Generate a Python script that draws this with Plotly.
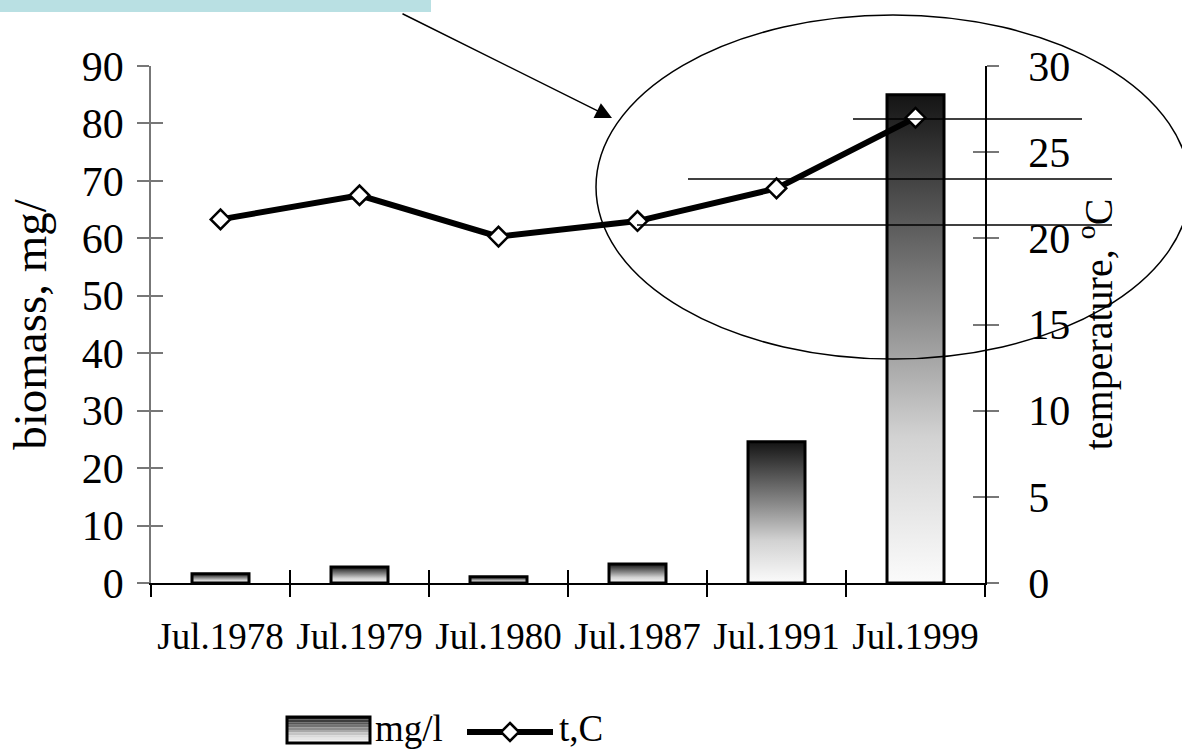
import plotly.graph_objects as go

# Survey dates (categories)
dates = ["Jul.1978", "Jul.1979", "Jul.1980", "Jul.1987", "Jul.1991", "Jul.1999"]
# Biomass, mg/l (bars, left axis)
biomass = [1.6, 2.8, 1.1, 3.3, 24.6, 85.0]
# Water temperature, C (line, right axis)
temperature = [21.1, 22.5, 20.1, 21.0, 22.9, 27.0]

left_ticks = list(range(0, 91, 10))
right_ticks = list(range(0, 31, 5))

W, H = 1182, 750
ML, MR, MT, MB = 151, 197, 66, 167
PW, PH = W - ML - MR, H - MT - MB

FONT = "Liberation Serif, Times New Roman, serif"
FS = 37
FS_Y = 42

BAR_HALF = 0.205
gradient = [[0.0, "#fbfbfb"], [0.3, "#d2d2d2"], [0.55, "#8c8c8c"],
            [0.8, "#4a4a4a"], [1.0, "#141414"]]


def px(x, y):
    """Pixel position on the page -> paper coordinates of the plot area."""
    return (x - ML) / PW, (H - MB - y) / PH


def grey_at(t):
    """Colour of the bar gradient at fraction t (0 = bottom, 1 = top)."""
    for (p0, c0), (p1, c1) in zip(gradient[:-1], gradient[1:]):
        if p0 <= t <= p1:
            f = (t - p0) / (p1 - p0)
            a = int(c0[1:3], 16)
            b = int(c1[1:3], 16)
            v = round(a + (b - a) * f)
            return "#{0:02x}{0:02x}{0:02x}".format(v)
    return gradient[-1][1]


fig = go.Figure()

# Bars with a vertical grey gradient, one filled outline per date
for i, v in enumerate(biomass):
    fig.add_trace(go.Scatter(
        x=[i - BAR_HALF, i - BAR_HALF, i + BAR_HALF, i + BAR_HALF, i - BAR_HALF],
        y=[0, v, v, 0, 0],
        mode="lines", fill="toself",
        fillgradient=dict(type="vertical", colorscale=gradient),
        line=dict(color="black", width=3),
        name="mg/l", showlegend=False, hoverinfo="skip",
    ))

# Temperature line on the right axis
fig.add_trace(go.Scatter(
    x=list(range(len(dates))), y=temperature, yaxis="y2",
    mode="lines+markers", name="t,C", showlegend=False,
    line=dict(color="black", width=6),
    marker=dict(symbol="diamond", size=15, color="white",
                line=dict(color="black", width=2.5)),
))

bounds = [i - 0.5 for i in range(len(dates) + 1)]
xr = [-0.5, len(dates) - 0.5]

xtick_font = dict(family=FONT, size=FS, color="black")
ytick_font = dict(family=FONT, size=FS_Y, color="black")

fig.update_layout(
    width=W, height=H, autosize=False,
    margin=dict(l=ML, r=MR, t=MT, b=MB, pad=0),
    paper_bgcolor="white", plot_bgcolor="white",
    font=dict(family=FONT, size=FS, color="black"),
    showlegend=False,
    xaxis=dict(range=xr, tickvals=list(range(len(dates))), ticktext=dates,
               ticks="", showgrid=False, zeroline=False,
               showline=True, linecolor="black", linewidth=1.5,
               tickfont=xtick_font, ticklabelstandoff=20),
    xaxis2=dict(range=xr, overlaying="x", anchor="y", side="bottom",
                tickvals=bounds, ticks="outside", ticklen=13, tickwidth=1.5,
                tickcolor="black", showticklabels=False, showgrid=False,
                zeroline=False, showline=False),
    xaxis3=dict(range=xr, overlaying="x", anchor="y", side="bottom",
                tickvals=bounds, ticks="inside", ticklen=13, tickwidth=1.5,
                tickcolor="black", showticklabels=False, showgrid=False,
                zeroline=False, showline=False),
    yaxis=dict(range=[0, 90], tickvals=left_ticks, ticks="outside",
               ticklen=12, tickwidth=1.5, tickcolor="#777",
               showline=True, linecolor="#777", linewidth=1.5,
               showgrid=False, zeroline=False, tickfont=ytick_font,
               ticklabelstandoff=5,
               title=dict(text="biomass, mg/", font=dict(family=FONT, size=47),
                          standoff=20)),
    yaxis3=dict(range=[0, 90], overlaying="y", anchor="x", side="left",
                tickvals=left_ticks, ticks="inside", ticklen=12, tickwidth=1.5,
                tickcolor="#777", showticklabels=False, showgrid=False,
                zeroline=False, showline=False),
    yaxis2=dict(range=[0, 30], overlaying="y", anchor="x", side="right",
                tickvals=right_ticks, ticks="outside", ticklen=12,
                tickwidth=1.5, tickcolor="#777",
                showline=True, linecolor="black", linewidth=1.5,
                showgrid=False, zeroline=False, tickfont=ytick_font,
                ticklabelstandoff=21,
                title=dict(text="temperature, <sup>o</sup>C",
                           font=dict(family=FONT, size=40), standoff=0)),
    yaxis4=dict(range=[0, 30], overlaying="y", anchor="x", side="right",
                tickvals=right_ticks, ticks="inside", ticklen=12, tickwidth=1.5,
                tickcolor="#777", showticklabels=False, showgrid=False,
                zeroline=False, showline=False),
)

# Keep the extra tick axes alive with empty traces
for xa, ya in [("x2", "y"), ("x3", "y"), ("x", "y3"), ("x", "y4")]:
    fig.add_trace(go.Scatter(x=[None], y=[None], xaxis=xa, yaxis=ya,
                             showlegend=False, hoverinfo="skip"))

shapes = []

# Legend, first item: banded grey swatch in a black frame
sx0, sx1, sy0, sy1 = 287, 370, 717, 743
n_bands = 10
for k in range(n_bands):
    top = sy0 + (sy1 - sy0) * k / n_bands
    bot = sy0 + (sy1 - sy0) * (k + 1) / n_bands
    t = 1 - (k + 0.5) / n_bands
    a, b = px(sx0, bot)
    c, d = px(sx1, top)
    shapes.append(dict(type="rect", xref="paper", yref="paper", x0=a, x1=c,
                       y0=b, y1=d, fillcolor=grey_at(t), line=dict(width=0)))
a, b = px(sx0, sy1)
c, d = px(sx1, sy0)
shapes.append(dict(type="rect", xref="paper", yref="paper", x0=a, x1=c,
                   y0=b, y1=d, line=dict(color="black", width=3)))

# Legend, second item: thick line with an open diamond
ly_px = 732
a, b = px(467, ly_px)
c, _ = px(553, ly_px)
shapes.append(dict(type="line", xref="paper", yref="paper", x0=a, x1=c,
                   y0=b, y1=b, line=dict(color="black", width=6)))
dcx, dr = 510, 9
pts = [px(dcx, ly_px - dr), px(dcx + dr, ly_px), px(dcx, ly_px + dr),
       px(dcx - dr, ly_px)]
path = "M" + " L".join(f"{p[0]:.5f},{p[1]:.5f}" for p in pts) + " Z"
shapes.append(dict(type="path", xref="paper", yref="paper", path=path,
                   fillcolor="white", line=dict(color="black", width=2.5)))

# Callout: header strip, arrow, ellipse and guide lines
x0, y0 = px(0, 0)
x1, y1 = px(431, 12)
shapes.append(dict(type="rect", xref="paper", yref="paper", x0=x0, x1=x1,
                   y0=y1, y1=y0, fillcolor="#b9e0e3", line=dict(width=0),
                   layer="above"))
ex0, ey0 = px(596, 15)
ex1, ey1 = px(1190, 359)
shapes.append(dict(type="circle", xref="paper", yref="paper", x0=ex0, x1=ex1,
                   y0=ey1, y1=ey0, line=dict(color="black", width=1.5),
                   layer="above"))
for (lx0, lx1, lyy) in [(853, 1082, 119), (688, 1112, 179), (637, 1112, 225)]:
    a, b = px(lx0, lyy)
    c, _ = px(lx1, lyy)
    shapes.append(dict(type="line", xref="paper", yref="paper", x0=a, x1=c,
                       y0=b, y1=b, line=dict(color="black", width=1.5),
                       layer="above"))
fig.update_layout(shapes=shapes)

for label, lx_px in [("mg/l", 373), ("t,C", 557)]:
    lx, ly = px(lx_px, 729)
    fig.add_annotation(xref="paper", yref="paper", x=lx, y=ly, text=label,
                       showarrow=False, xanchor="left", yanchor="middle",
                       font=dict(family=FONT, size=FS, color="black"))

hx, hy = px(612, 118)
fig.add_annotation(xref="paper", yref="paper", x=hx, y=hy, text="",
                   showarrow=True, arrowhead=2, arrowsize=2.2, arrowwidth=1.5,
                   arrowcolor="black", axref="pixel", ayref="pixel",
                   ax=401 - 612, ay=13 - 118)

fig.write_html("out.html")
